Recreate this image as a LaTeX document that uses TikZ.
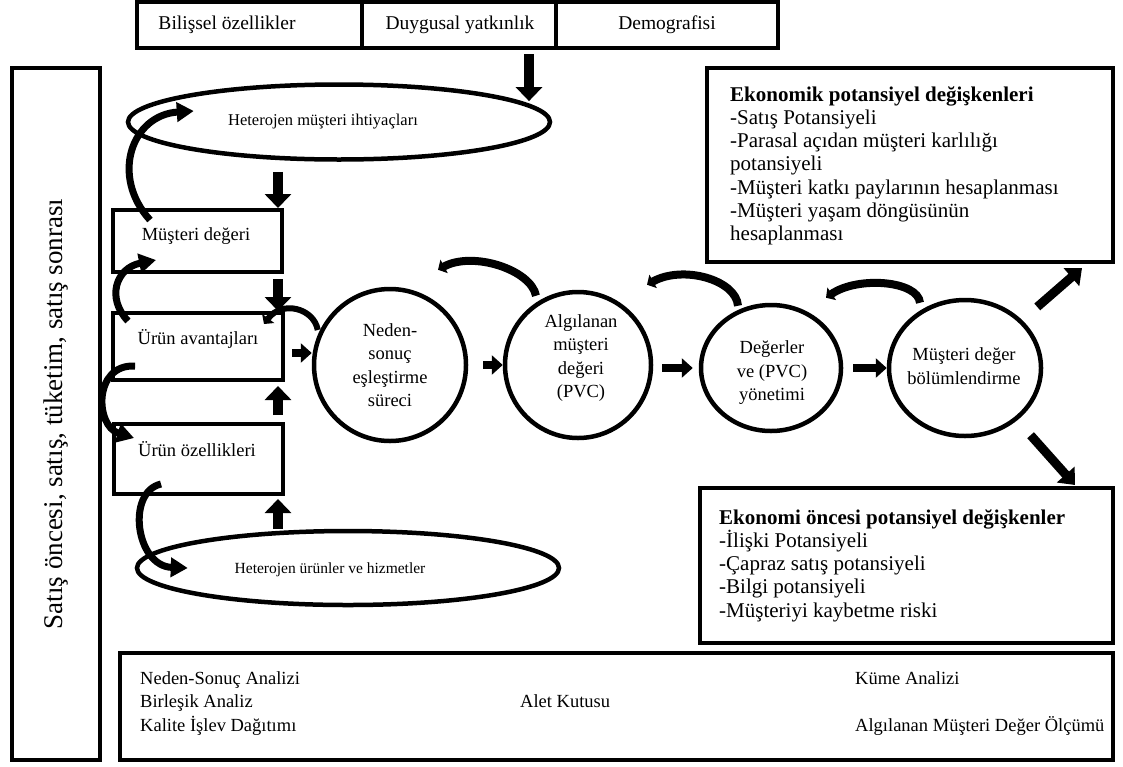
\documentclass[tikz,border=0pt]{standalone}
\usepackage{fontspec}
\setmainfont{Liberation Serif}
\usetikzlibrary{arrows.meta,shapes.geometric,calc}
\newcommand\fsz[2]{\fontsize{#1}{#2}\selectfont}

\begin{document}
\begin{tikzpicture}[x=1pt,y=-1pt,
  boxed/.style={draw,line width=4pt,inner sep=0pt},
  oval/.style={draw,ellipse,line width=4.5pt,inner sep=0pt},
  txt/.style={inner sep=0pt,align=center,font=\fsz{18.5}{23.5}},
  smalltxt/.style={inner sep=0pt,font=\fsz{16.5}{20}},
  bigtxt/.style={inner sep=0pt,align=left,font=\fsz{21}{23.3}},
  tooltxt/.style={inner sep=0pt,font=\fsz{18.5}{22}},
  toptxt/.style={inner sep=0pt,font=\fsz{19.5}{24}},
  fatarrow/.style={line width=10pt,-{Triangle[width=26pt,length=14pt]}},
  slantarrow/.style={line width=9pt,-{Triangle[width=23pt,length=14pt]}},
  flowarrow/.style={line width=8pt,-{Triangle[width=19pt,length=11pt]}},
  swingarrow/.style={line width=7pt,-{Triangle[width=19pt,length=17pt]}},
  humparrow/.style={line width=8pt,-{Triangle[width=15pt,length=7pt]}},
]
\fill[white] (0,0) rectangle (1123,766);
\useasboundingbox (0,0) rectangle (1123,766);

% customer profile bar
\node[boxed,minimum width=225,minimum height=46] (bil) at (249.5,25) {};
\node[boxed,minimum width=194,minimum height=46] (duy) at (459,25) {};
\node[boxed,minimum width=222,minimum height=46] (dem) at (667,25) {};
\node[toptxt] (bilt) at (227,25) {Bilişsel özellikler};
\node[toptxt] (duyt) at (460,25) {Duygusal yatkınlık};
\node[toptxt] (demt) at (667,25) {Demografisi};

% phases of the purchase
\node[boxed,rotate=90,minimum width=692,minimum height=88,font=\fsz{27}{30}] (phase) at (56,414)
  {Satış öncesi, satış, tüketim, satış sonrası};

% value chain on the left
\node[oval,minimum width=422,minimum height=75] (he1) at (339,122) {};
\node[smalltxt] (he1t) at (323,122) {Heterojen müşteri ihtiyaçları};
\node[boxed,minimum width=169,minimum height=62] (md) at (197.5,241) {};
\node[txt] (mdt) at (196,236) {Müşteri değeri};
\node[boxed,minimum width=170,minimum height=67] (ua) at (198,346.5) {};
\node[txt] (uat) at (198,339) {Ürün avantajları};
\node[boxed,minimum width=169,minimum height=70] (uo) at (198.5,459) {};
\node[txt] (uot) at (197,449) {Ürün özellikleri};
\node[oval,minimum width=422,minimum height=74] (he2) at (348,568) {};
\node[smalltxt,font=\fsz{15.5}{20}] (he2t) at (330,570) {Heterojen ürünler ve hizmetler};

% process stages
\node[oval,minimum width=152,minimum height=152] (c1) at (390,365) {};
\node[txt] (c1t) at (390,365) {Neden-\\sonuç\\eşleştirme\\süreci};
\node[oval,minimum width=146,minimum height=146] (c2) at (578,365) {};
\node[txt] (c2t) at (581,358) {Algılanan\\müşteri\\değeri\\(PVC)};
\node[oval,minimum width=140,minimum height=126] (c3) at (771,368) {};
\node[txt] (c3t) at (772,373) {Değerler\\ve (PVC)\\yönetimi};
\node[oval,minimum width=152,minimum height=136] (e3) at (965,368) {};
\node[txt] (e3t) at (964,366) {Müşteri değer\\bölümlendirme};

% potential variables
\node[boxed,minimum width=406,minimum height=194] (econ) at (910,165) {};
\node[bigtxt,anchor=north west] (econt) at (730,86)
  {\textbf{Ekonomik potansiyel değişkenleri}\\-Satış Potansiyeli\\-Parasal açıdan müşteri karlılığı\\potansiyeli\\-Müşteri katkı paylarının hesaplanması\\-Müşteri yaşam döngüsünün\\hesaplanması};
\node[boxed,minimum width=413,minimum height=155] (pre) at (906.5,565.5) {};
\node[bigtxt,anchor=north west] (pret) at (719,509)
  {\textbf{Ekonomi öncesi potansiyel değişkenler}\\-İlişki Potansiyeli\\-Çapraz satış potansiyeli\\-Bilgi potansiyeli\\-Müşteriyi kaybetme riski};

% toolbox
\node[boxed,minimum width=993,minimum height=107] (tool) at (616.5,706.5) {};
\node[tooltxt,anchor=base west] (t1) at (140,684) {Neden-Sonuç Analizi};
\node[tooltxt,anchor=base west] (t2) at (140,707) {Birleşik Analiz};
\node[tooltxt,anchor=base west] (t3) at (140,731) {Kalite İşlev Dağıtımı};
\node[tooltxt,anchor=base west] (t4) at (520,707) {Alet Kutusu};
\node[tooltxt,anchor=base west] (t5) at (855,684) {Küme Analizi};
\node[tooltxt,anchor=base west] (t6) at (855,731) {Algılanan Müşteri Değer Ölçümü};

% straight arrows
\coordinate (colx) at (278,0);
\coordinate (dropx) at (529,0);
\coordinate (uarow) at (0,353);
\coordinate (upTip) at (1082,268);
\coordinate (downTip) at (1075,485);
\draw[fatarrow,shorten <=4pt,shorten >=4pt] (duy.south -| dropx) -- (dropx |- he1.5);
\draw[fatarrow,shorten <=10pt] (he1.south -| colx) -- (md.north -| colx);
\draw[fatarrow,shorten <=5pt] (md.south -| colx) -- (ua.north -| colx);
\draw[fatarrow,shorten <=7pt,shorten >=4pt] (uo.north -| colx) -- (ua.south -| colx);
\draw[fatarrow,shorten >=3pt] (he2.north -| colx) -- (uo.south -| colx);
\draw[flowarrow,shorten <=7pt] (ua.east |- uarow) -- (c1.west |- uarow);
\draw[flowarrow,shorten <=15pt] (c1.east) -- (c2.west);
\draw[flowarrow,shorten <=9pt,shorten >=6pt] (c2.east |- c3.west) -- (c3.west);
\draw[flowarrow,shorten <=10pt] (c3.east) -- (e3.west);
\draw[slantarrow,shorten <=20pt] (e3.40) -- (upTip);
\draw[slantarrow,shorten <=20pt] (e3.-45) -- (downTip);

% curved feedback arrows on the left
\draw[swingarrow] ($(md.north west)+(39,12)$) .. controls +(-40,-44) and +(-62,4) .. ($(he1.west)+(68,-11)$);
\draw[swingarrow] ($(ua.north west)+(17,10)$) .. controls +(-22,-23) and +(-40,8) .. ($(md.south west)+(45,-14)$);
\draw[swingarrow] ($(ua.south west)+(24,-16)$) .. controls +(-42,-2) and +(-39,-12) .. ($(uo.north west)+(22,16)$);
\draw[swingarrow] ($(uo.south west)+(49,-12)$) .. controls +(-35,8) and +(-52,-2) .. ($(he2.west)+(53,0)$);

% arcs over the stages
\draw[humparrow,line width=6pt] ($(c1.west)+(6,-35)$) .. controls +(-4,-22) and +(18,-24) .. ($(ua.north east)+(-21,13)$);
\draw[humparrow] ($(c2.north)+(-42,6)$) .. controls +(-5,-26) and +(35,-19) .. ($(c1.north)+(48,-17)$);
\draw[humparrow] ($(c3.north)+(-33,3)$) .. controls +(-2,-26) and +(36,-20) .. ($(c2.north)+(69,-5)$);
\draw[humparrow] ($(e3.north)+(-45,5)$) .. controls +(-2,-22) and +(32,-22) .. ($(c3.north)+(55,-5)$);
\end{tikzpicture}
\end{document}
